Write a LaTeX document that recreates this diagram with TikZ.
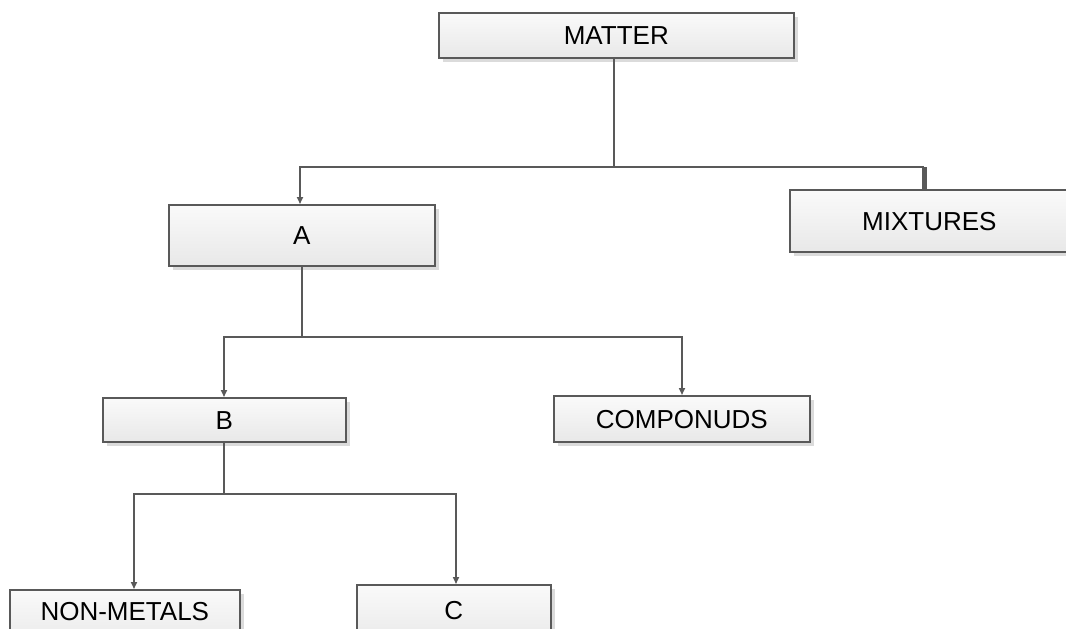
\documentclass[tikz,border=0pt]{standalone}
\usepackage{fontspec}
\setmainfont{Liberation Sans}
\usetikzlibrary{arrows.meta,shadows}
\begin{document}
\begin{tikzpicture}[x=1pt,y=-1pt,
  box/.style={draw=black!65, line width=1.6pt, rectangle, anchor=north west,
    top color=white!98!black, bottom color=white!91!black,
    inner sep=0pt, text height=19pt, text depth=0pt,
    font=\fontsize{26}{30}\selectfont, text=black,
    drop shadow={shadow xshift=4pt, shadow yshift=-4pt, fill=black!14, opacity=1}},
  conn/.style={draw=black!65, line width=1.6pt},
  arr/.style={conn, -{Triangle[length=7pt,width=6pt]}}]
\clip (0,0) rectangle (1066,629);
\useasboundingbox (0,0) rectangle (1066,629);
\fill[white] (0,0) rectangle (1066,629);

\node[box, minimum width=355pt, minimum height=45pt] (matter) at (438,12) {MATTER};
\node[box, minimum width=266pt, minimum height=61pt] (a) at (168,204) {A};
\node[box, minimum width=279pt, minimum height=62pt] (mix) at (789,189) {MIXTURES};
\node[box, minimum width=243pt, minimum height=44pt] (b) at (102,397) {B};
\node[box, minimum width=256pt, minimum height=46pt] (comp) at (553,395) {COMPONUDS};
\node[box, minimum width=230pt, minimum height=60pt, text depth=18pt] (nm) at (9,589) {NON-METALS};
\node[box, minimum width=194pt, minimum height=60pt, text depth=10pt] (c) at (356,584) {C};

\coordinate (j1) at (614,167);
\coordinate (j2) at (302,337);
\coordinate (j3) at (224,494);
\coordinate (xa) at (300,0);
\coordinate (xmix) at (924,0);
\coordinate (xcomp) at (682,0);
\coordinate (xnm) at (134,0);
\coordinate (xc) at (456,0);

% MATTER level
\draw[conn] (matter.south -| j1) -- (j1);
\draw[arr] (j1) -| (a.north -| xa);
\draw[conn] (j1) -| (j1 -| xmix);
\draw[draw=black!65, line width=5pt] (j1 -| xmix) -- (mix.north -| xmix);
% A level
\draw[conn] (a.south -| j2) -- (j2);
\draw[arr] (j2) -| (b.north -| j3);
\draw[arr] (j2) -| (comp.north -| xcomp);
% B level
\draw[conn] (b.south -| j3) -- (j3);
\draw[arr] (j3) -| (nm.north -| xnm);
\draw[arr] (j3) -| (c.north -| xc);
\end{tikzpicture}
\end{document}
